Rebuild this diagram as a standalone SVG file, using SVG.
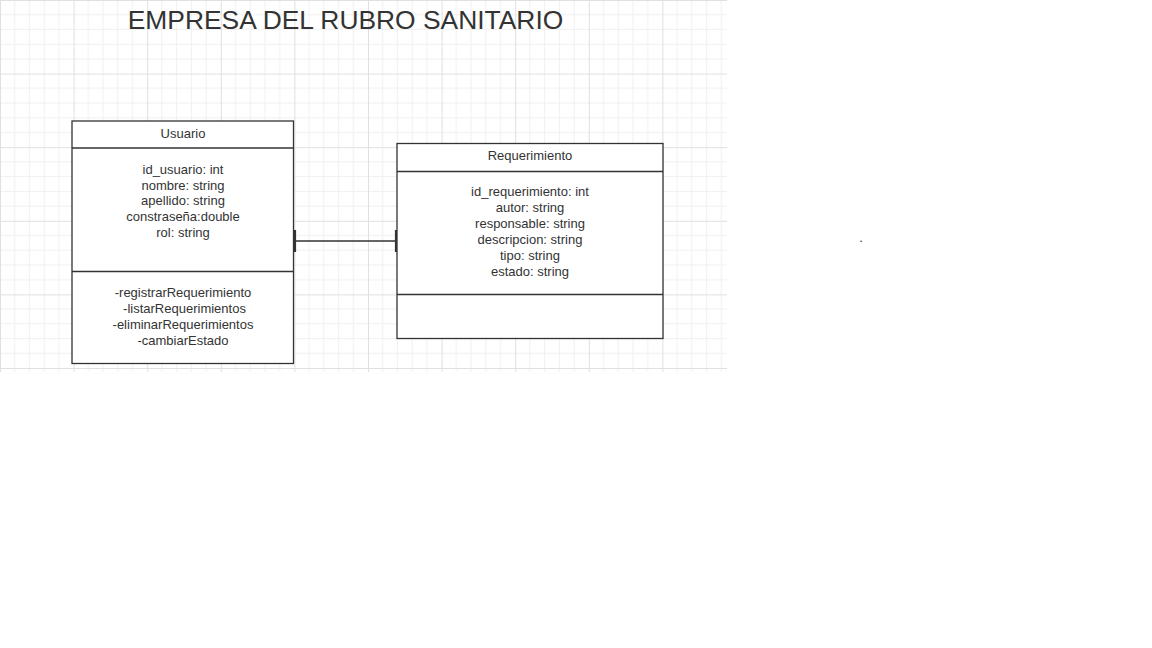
<svg xmlns="http://www.w3.org/2000/svg" width="1152" height="648" viewBox="0 0 1152 648">
<style>
.box{fill:#fff;stroke:#333;stroke-width:1.3}
.sep{stroke:#333;stroke-width:1.3}
.t{font-family:"Liberation Sans",Arial,sans-serif;font-size:13px;fill:#333;text-anchor:middle}
.title{font-family:"Liberation Sans",Arial,sans-serif;font-size:26.4px;fill:#333;text-anchor:middle}
.conn{stroke:#333;stroke-width:1.5;fill:none}
.bar{stroke:#333;stroke-width:2.2}
</style>
<defs>
<pattern id="grid" patternUnits="userSpaceOnUse" x="0" y="0" width="73.6" height="73.6">
<path d="M14.72 0V73.6M29.44 0V73.6M44.16 0V73.6M58.88 0V73.6M0 14.72H73.6M0 29.44H73.6M0 44.16H73.6M0 58.88H73.6" stroke="#f0f0f0" stroke-width="1" fill="none"/>
<path d="M0.5 0V73.6M0 0.5H73.6" stroke="#e0e0e0" stroke-width="1" fill="none"/>
</pattern>
</defs>
<rect width="1152" height="648" fill="#fff"/>
<rect x="0" y="0" width="727" height="372" fill="url(#grid)"/>
<text class="title" x="345.5" y="28.5">EMPRESA DEL RUBRO SANITARIO</text>
<g id="connectors">
<line class="conn" x1="294" y1="241" x2="397" y2="241"/>
<line class="bar" x1="295" y1="230" x2="295" y2="252"/>
<line class="bar" x1="396" y1="230" x2="396" y2="252"/>
</g>
<g id="usuario">
<rect class="box" x="72" y="121" width="221.5" height="242.5"/>
<line class="sep" x1="72" y1="148" x2="293.5" y2="148"/>
<line class="sep" x1="72" y1="271.5" x2="293.5" y2="271.5"/>
<text class="t" x="183" y="138">Usuario</text>
<text class="t" x="183" y="174">id_usuario: int</text>
<text class="t" x="183" y="189.7">nombre: string</text>
<text class="t" x="183" y="205.4">apellido: string</text>
<text class="t" x="183" y="221.1">constraseña:double</text>
<text class="t" x="183" y="236.8">rol: string</text>
<text class="t" x="183" y="297">-registrarRequerimiento</text>
<text class="t" x="184.5" y="313">-listarRequerimientos</text>
<text class="t" x="183" y="329">-eliminarRequerimientos</text>
<text class="t" x="183" y="345">-cambiarEstado</text>
</g>
<g id="requerimiento">
<rect class="box" x="397" y="143.5" width="266" height="195"/>
<line class="sep" x1="397" y1="171.5" x2="663" y2="171.5"/>
<line class="sep" x1="397" y1="294.5" x2="663" y2="294.5"/>
<text class="t" x="530" y="160">Requerimiento</text>
<text class="t" x="530" y="195.5">id_requerimiento: int</text>
<text class="t" x="530" y="211.5">autor: string</text>
<text class="t" x="530" y="227.5">responsable: string</text>
<text class="t" x="530" y="243.5">descripcion: string</text>
<text class="t" x="530" y="259.5">tipo: string</text>
<text class="t" x="530" y="275.5">estado: string</text>
</g>
<text class="t" x="861" y="242">.</text>
</svg>
